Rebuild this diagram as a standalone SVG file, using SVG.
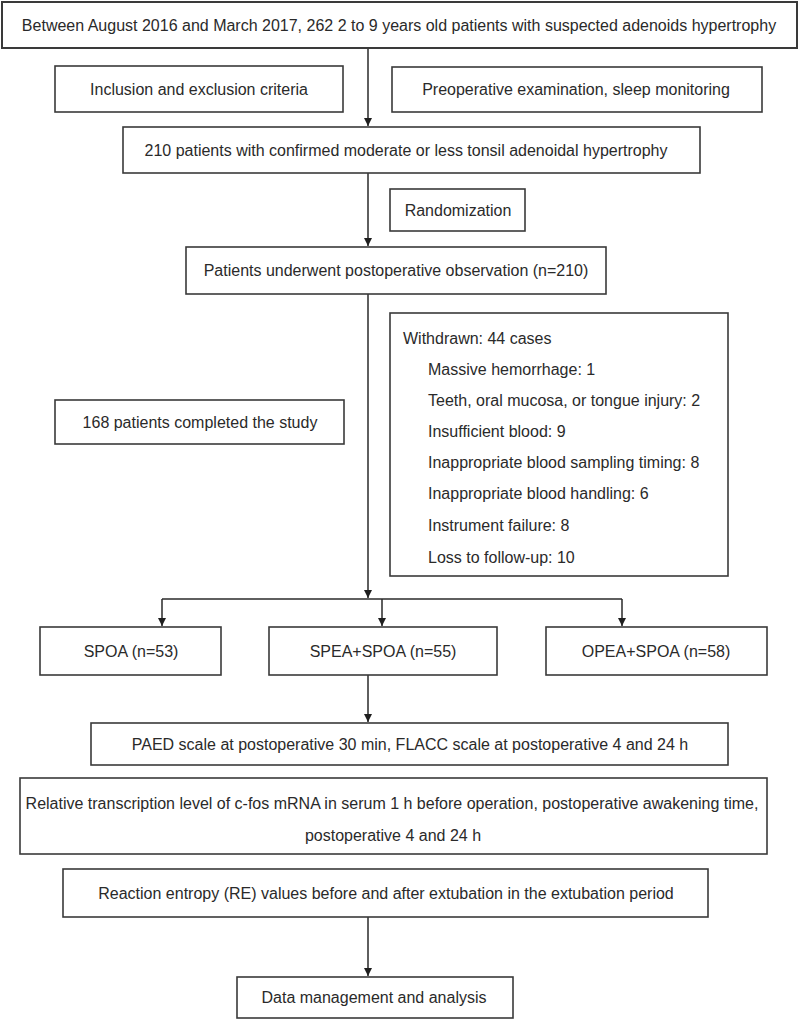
<svg xmlns="http://www.w3.org/2000/svg" width="800" height="1020" viewBox="0 0 800 1020">
<style>
.box{fill:#fff;stroke:#3a3a3a;stroke-width:1.6}
.t{font-family:"Liberation Sans",Arial,sans-serif;font-size:16px;fill:#2a2a2a;text-anchor:middle}
.l{text-anchor:start}
.c{fill:none;stroke:#2a2a2a;stroke-width:1.5}
</style>
<defs>
<marker id="ah" markerWidth="10" markerHeight="10" refX="9" refY="5" orient="auto" markerUnits="userSpaceOnUse">
<path d="M1,1 L9,5 L1,9 Z" fill="#1e1e1e"/>
</marker>
</defs>
<rect width="800" height="1020" fill="#fff"/>
<g id="connectors">
<line class="c" x1="368" y1="48" x2="368" y2="126" marker-end="url(#ah)"/>
<line class="c" x1="368" y1="173" x2="368" y2="246" marker-end="url(#ah)"/>
<line class="c" x1="368" y1="294" x2="368" y2="598" marker-end="url(#ah)"/>
<polyline class="c" points="162,599 622,599"/>
<line class="c" x1="162" y1="599" x2="162" y2="626" marker-end="url(#ah)"/>
<line class="c" x1="382" y1="599" x2="382" y2="626" marker-end="url(#ah)"/>
<line class="c" x1="622" y1="599" x2="622" y2="626" marker-end="url(#ah)"/>
<line class="c" x1="368" y1="675" x2="368" y2="722" marker-end="url(#ah)"/>
<line class="c" x1="368" y1="917" x2="368" y2="976" marker-end="url(#ah)"/>
</g>
<g id="n-top"><rect class="box" x="2" y="2" width="795" height="46" style="stroke-width:2"/><text class="t" x="399" y="30.5">Between August 2016 and March 2017, 262 2 to 9 years old patients with suspected adenoids hypertrophy</text></g>
<g id="n-incl"><rect class="box" x="55" y="66" width="288" height="46"/><text class="t" x="199" y="94.5">Inclusion and exclusion criteria</text></g>
<g id="n-preop"><rect class="box" x="392" y="67" width="370" height="45"/><text class="t" x="576" y="94.5">Preoperative examination, sleep monitoring</text></g>
<g id="n-210"><rect class="box" x="123" y="127" width="577" height="46"/><text class="t" x="406" y="155.5">210 patients with confirmed moderate or less tonsil adenoidal hypertrophy</text></g>
<g id="n-rand"><rect class="box" x="390" y="189" width="135" height="42"/><text class="t" x="458" y="215.5">Randomization</text></g>
<g id="n-obs"><rect class="box" x="186" y="247" width="420" height="47"/><text class="t" x="396" y="275.5">Patients underwent postoperative observation (n=210)</text></g>
<g id="n-168"><rect class="box" x="55" y="400" width="289" height="44"/><text class="t" x="200" y="427.5">168 patients completed the study</text></g>
<g id="n-withdrawn"><rect class="box" x="390" y="313" width="338" height="263"/>
<text class="t l" x="403" y="343.5">Withdrawn: 44 cases</text>
<text class="t l" x="428" y="374.5">Massive hemorrhage: 1</text>
<text class="t l" x="428" y="405.5">Teeth, oral mucosa, or tongue injury: 2</text>
<text class="t l" x="428" y="436.5">Insufficient blood: 9</text>
<text class="t l" x="428" y="467.5">Inappropriate blood sampling timing: 8</text>
<text class="t l" x="428" y="498.5">Inappropriate blood handling: 6</text>
<text class="t l" x="428" y="530.5">Instrument failure: 8</text>
<text class="t l" x="428" y="562.5">Loss to follow-up: 10</text>
</g>
<g id="n-spoa"><rect class="box" x="40" y="627" width="181" height="48"/><text class="t" x="131" y="656.5">SPOA (n=53)</text></g>
<g id="n-spea"><rect class="box" x="269" y="627" width="228" height="48"/><text class="t" x="383" y="656.5">SPEA+SPOA (n=55)</text></g>
<g id="n-opea"><rect class="box" x="546" y="627" width="221" height="48"/><text class="t" x="656" y="656.5">OPEA+SPOA (n=58)</text></g>
<g id="n-paed"><rect class="box" x="91" y="723" width="637" height="42"/><text class="t" x="410" y="749.5">PAED scale at postoperative 30 min, FLACC scale at postoperative 4 and 24 h</text></g>
<g id="n-rel"><rect class="box" x="20" y="778" width="747" height="76"/>
<text class="t" x="392" y="808.5">Relative transcription level of c-fos mRNA in serum 1 h before operation, postoperative awakening time,</text>
<text class="t" x="393" y="840.5">postoperative 4 and 24 h</text></g>
<g id="n-re"><rect class="box" x="63" y="869" width="645" height="48"/><text class="t" x="386" y="898.5">Reaction entropy (RE) values before and after extubation in the extubation period</text></g>
<g id="n-data"><rect class="box" x="237" y="977" width="276" height="41"/><text class="t" x="374" y="1002.5">Data management and analysis</text></g>
</svg>
